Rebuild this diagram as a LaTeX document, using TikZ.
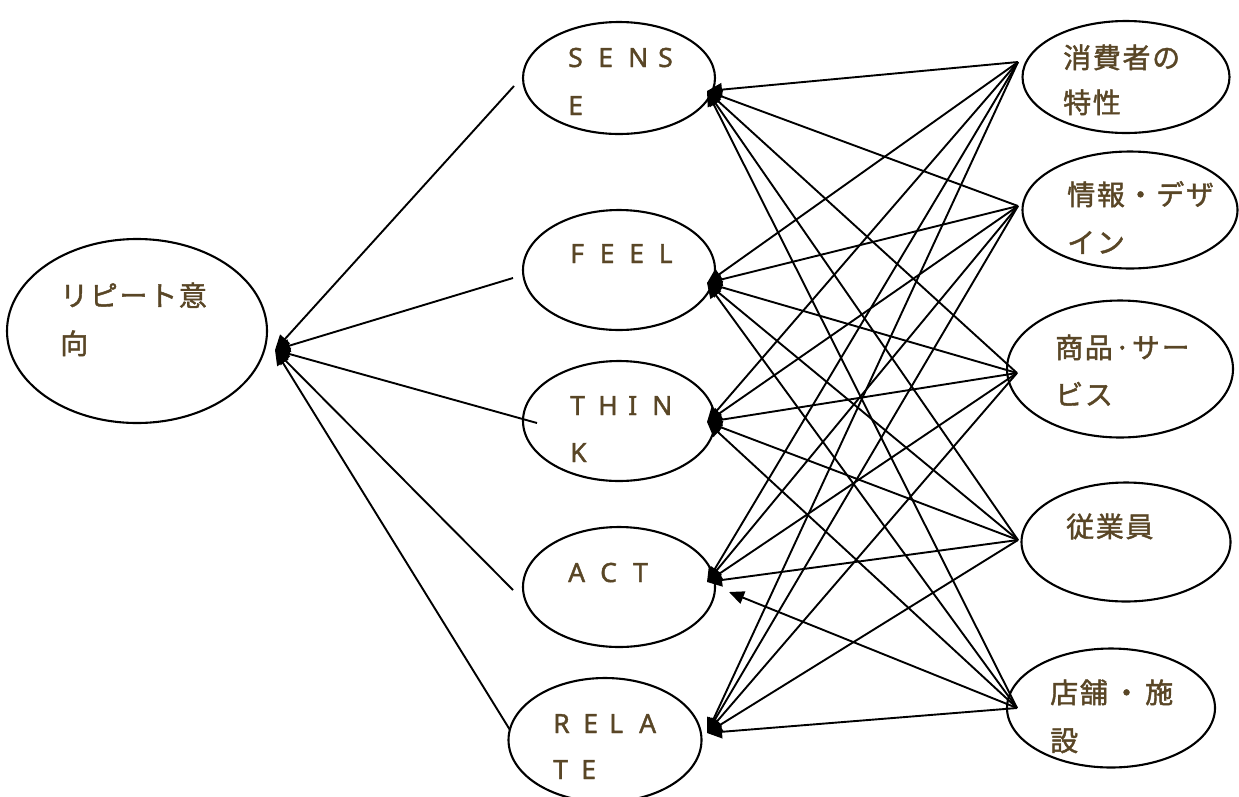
\documentclass[tikz,border=0pt]{standalone}
\usepackage{fontspec}
\setmainfont[FakeBold=1.5]{Noto Sans}
\newfontfamily\jpfont[LetterSpace=6,FakeBold=1.5]{Noto Sans CJK JP}
\usetikzlibrary{arrows.meta,shapes.geometric}
\definecolor{ink}{RGB}{89,70,38}
% one spaced capital letter, in a box of the given width
\newcommand\lt[2][30pt]{\makebox[#1][l]{#2}}

\begin{document}
\begin{tikzpicture}[x=1pt,y=-1pt,
  bubble/.style={draw, line width=2.1pt, shape=ellipse, inner sep=0pt},
  conn/.style={line width=1.9pt, -{Triangle[length=15pt,width=13pt]}},
  jptext/.style={anchor=base west, inner sep=0pt, text=ink, font=\jpfont\fontsize{28}{32}\selectfont},
  entext/.style={anchor=base west, inner sep=0pt, text=ink, font=\fontsize{26.5}{30}\selectfont}]
\useasboundingbox (0,0) rectangle (1239,796);

% ellipses
\node[bubble, minimum width=260pt, minimum height=184pt] (rep) at (137,331) {};
\node[bubble, minimum width=192pt, minimum height=112pt] (sense) at (619,78) {};
\node[bubble, minimum width=192pt, minimum height=120pt] (feel) at (619,270) {};
\node[bubble, minimum width=192pt, minimum height=120pt] (think) at (619,421) {};
\node[bubble, minimum width=192pt, minimum height=120pt] (act) at (619,587) {};
\node[bubble, minimum width=193pt, minimum height=124pt] (relate) at (605,740) {};
\node[bubble, minimum width=207pt, minimum height=112pt] (cons) at (1126,77) {};
\node[bubble, minimum width=215pt, minimum height=117pt] (info) at (1130,210) {};
\node[bubble, minimum width=226pt, minimum height=137pt] (prod) at (1120,369) {};
\node[bubble, minimum width=209pt, minimum height=119pt] (staff) at (1126,542) {};
\node[bubble, minimum width=208pt, minimum height=119pt] (store) at (1111,708) {};

% labels
\node[jptext] (repA) at (60,306) {リピート意};
\node[jptext] (repB) at (60,354) {向};
\node[entext] (senseA) at (568,67) {\lt{S}\lt{E}\lt{N}\lt{S}};
\node[entext] (senseB) at (568,115) {\lt{E}};
\node[entext] (feelA) at (570,263) {\lt[29.5pt]{F}\lt[29.5pt]{E}\lt[29.5pt]{E}\lt{L}};
\node[entext] (thinkA) at (570,415) {\lt[28pt]{T}\lt[30pt]{H}\lt[24pt]{I}\lt{N}};
\node[entext] (thinkB) at (570,462) {\lt{K}};
\node[entext] (actA) at (568,582) {\lt[32pt]{A}\lt[33pt]{C}\lt{T}};
\node[entext] (relateA) at (553,733) {\lt[30pt]{R}\lt[26pt]{E}\lt[30pt]{L}\lt{A}};
\node[entext] (relateB) at (553,779) {\lt[28pt]{T}\lt{E}};
\node[jptext] (consA) at (1063,68) {消費者の};
\node[jptext] (consB) at (1063,113) {特性};
\node[jptext] (infoA) at (1067,205) {情報・デザ};
\node[jptext] (infoB) at (1067,253) {イン};
\node[jptext] (prodA) at (1055,358) {商品·サー};
\node[jptext] (prodB) at (1055,405) {ビス};
\node[jptext] (staffA) at (1066,537) {従業員};
\node[jptext] (storeA) at (1050,703) {店舗\,・\,施};
\node[jptext] (storeB) at (1050,751) {設};

% connector end points
\coordinate (repIn) at (275,350);
\coordinate (senseL) at (514,86);
\coordinate (feelL) at (513,278);
\coordinate (thinkL) at (537,423);
\coordinate (actL) at (513,590);
\coordinate (relateL) at (510,730);

\coordinate (senseR) at (707,91);
\coordinate (feelR) at (707,283);
\coordinate (thinkR) at (707,422);
\coordinate (actR) at (707,582);
\coordinate (actR2) at (729,592);
\coordinate (relateR) at (707,733);

\coordinate (consL) at (1018,62);
\coordinate (infoL) at (1018,206);
\coordinate (prodL) at (1017,373);
\coordinate (staffL) at (1018,540);
\coordinate (storeL) at (1017,708);

% experience modules -> repeat intention
\foreach \m in {senseL,feelL,thinkL,actL,relateL}
  \draw[conn] (\m) -- (repIn);

% factors -> experience modules
\foreach \f in {consL,infoL,prodL,staffL}
  \foreach \m in {senseR,feelR,thinkR,actR,relateR}
    \draw[conn] (\f) -- (\m);
\foreach \m in {senseR,feelR,thinkR,actR2,relateR}
  \draw[conn] (storeL) -- (\m);
\end{tikzpicture}
\end{document}
